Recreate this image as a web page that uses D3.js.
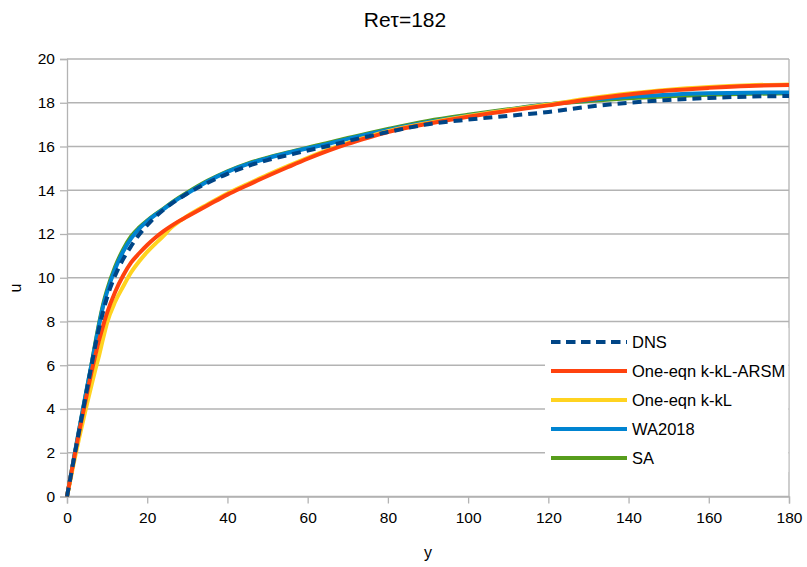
<!DOCTYPE html>
<html>
<head>
<meta charset="utf-8">
<script src="https://cdn.jsdelivr.net/npm/d3@7"></script>
<style>
  html, body { margin: 0; padding: 0; background: #fff; }
  svg { display: block; font-family: "Liberation Sans", Arial, sans-serif; }
</style>
</head>
<body>
<svg id="chart" width="807" height="567"></svg>
<script>
// Wall-normal distance y+ at which every profile is sampled
const yPlus = [0, 1, 2, 3, 4, 5, 6, 7, 8, 9, 10, 12, 14, 16, 18, 20, 22, 24, 26, 28, 30,
  35, 40, 45, 50, 55, 60, 65, 70, 75, 80, 90, 100, 110, 120, 130, 140, 150, 160, 170, 180];

// Mean velocity u+ for each model
const uDNS = [0, 1.0, 2.0, 2.98, 3.95, 4.92, 5.88, 6.85, 7.7, 8.45, 9.1, 10.1, 10.85, 11.45, 11.98, 12.4, 12.78, 13.1, 13.38, 13.62, 13.85,
  14.33, 14.75, 15.1, 15.38, 15.6, 15.82, 16.02, 16.25, 16.46, 16.66, 17.02, 17.23, 17.4, 17.58, 17.82, 18.0, 18.13, 18.22, 18.28, 18.31];
const uARSM = [0, 1.0, 1.97, 2.92, 3.82, 4.72, 5.6, 6.4, 7.15, 7.8, 8.4, 9.35, 10.1, 10.7, 11.12, 11.5, 11.83, 12.12, 12.37, 12.6, 12.8,
  13.3, 13.8, 14.23, 14.65, 15.05, 15.44, 15.8, 16.12, 16.4, 16.66, 17.04, 17.36, 17.63, 17.88, 18.15, 18.38, 18.56, 18.68, 18.77, 18.81];
const uKkL = [0, 0.9, 1.8, 2.65, 3.45, 4.25, 5.0, 5.75, 6.45, 7.22, 7.95, 8.9, 9.6, 10.25, 10.75, 11.18, 11.55, 11.9, 12.3, 12.58, 12.82,
  13.35, 13.85, 14.28, 14.7, 15.1, 15.48, 15.84, 16.16, 16.44, 16.7, 17.08, 17.4, 17.67, 17.92, 18.19, 18.42, 18.6, 18.72, 18.8, 18.84];
const uWA = [0, 1.02, 2.05, 3.05, 4.03, 5.0, 5.94, 6.9, 7.85, 8.7, 9.35, 10.4, 11.2, 11.8, 12.25, 12.58, 12.87, 13.13, 13.4, 13.64, 13.86,
  14.4, 14.84, 15.19, 15.46, 15.7, 15.92, 16.12, 16.35, 16.56, 16.76, 17.12, 17.41, 17.67, 17.93, 18.12, 18.27, 18.37, 18.43, 18.46, 18.47];
const uSA = [0, 1.0, 2.0, 3.0, 3.98, 4.96, 5.92, 6.95, 7.92, 8.78, 9.45, 10.5, 11.3, 11.9, 12.3, 12.62, 12.9, 13.15, 13.42, 13.67, 13.9,
  14.43, 14.87, 15.22, 15.49, 15.73, 15.95, 16.16, 16.39, 16.6, 16.8, 17.17, 17.45, 17.7, 17.93, 18.08, 18.2, 18.3, 18.37, 18.41, 18.43];

const seriesNames = ["DNS", "One-eqn k-kL-ARSM", "One-eqn k-kL", "WA2018", "SA"];
const seriesValues = [uDNS, uARSM, uKkL, uWA, uSA];
const seriesColors = ["#004586", "#ff420e", "#ffd320", "#0084d1", "#579d1c"];

const xTicks = [0, 20, 40, 60, 80, 100, 120, 140, 160, 180];
const yTicks = [0, 2, 4, 6, 8, 10, 12, 14, 16, 18, 20];

const svg = d3.select("#chart");
const plot = { left: 67, right: 789, top: 59, bottom: 496.5 };

const x = d3.scaleLinear().domain([0, 180]).range([plot.left, plot.right]);
const y = d3.scaleLinear().domain([0, 20]).range([plot.bottom, plot.top]);

const grey = "#b3b3b3";

// Horizontal grid
svg.append("g")
  .selectAll("line")
  .data(yTicks)
  .join("line")
  .attr("x1", plot.left).attr("x2", plot.right)
  .attr("y1", d => y(d)).attr("y2", d => y(d))
  .attr("stroke", grey).attr("stroke-width", 1.3);

// Right frame edge
svg.append("line")
  .attr("x1", plot.right).attr("x2", plot.right)
  .attr("y1", plot.top).attr("y2", plot.bottom)
  .attr("stroke", grey).attr("stroke-width", 1.3);

// Axes
const xAxis = d3.axisBottom(x).tickValues(xTicks).tickSize(7).tickPadding(8);
const yAxis = d3.axisLeft(y).tickValues(yTicks).tickSize(7).tickPadding(5);

const gx = svg.append("g").attr("transform", `translate(0,${plot.bottom})`).call(xAxis);
const gy = svg.append("g").attr("transform", `translate(${plot.left},0)`).call(yAxis);

[gx, gy].forEach(g => {
  g.select(".domain").attr("stroke", grey).attr("stroke-width", 1.3);
  g.selectAll(".tick line").attr("stroke", grey).attr("stroke-width", 1.3);
  g.selectAll(".tick text")
    .attr("fill", "#000")
    .style("font-family", "'Liberation Sans', Arial, sans-serif")
    .style("font-size", "15.5px");
});

// Curves, drawn from the last legend entry up so DNS sits on top
svg.append("clipPath").attr("id", "plotClip")
  .append("rect")
  .attr("x", plot.left - 3).attr("y", plot.top - 5)
  .attr("width", plot.right - plot.left + 3).attr("height", plot.bottom - plot.top + 8);

const line = d3.line()
  .x((d, i) => x(yPlus[i]))
  .y(d => y(d))
  .curve(d3.curveMonotoneX);

const curves = svg.append("g").attr("clip-path", "url(#plotClip)");
for (let s = seriesValues.length - 1; s >= 0; s--) {
  curves.append("path")
    .datum(seriesValues[s])
    .attr("d", line)
    .attr("fill", "none")
    .attr("stroke", seriesColors[s])
    .attr("stroke-width", 4)
    .attr("stroke-linejoin", "round")
    .attr("stroke-dasharray", s === 0 ? "9,6" : null);
}

// Legend
const legend = svg.append("g");
legend.append("rect")
  .attr("x", 545).attr("y", 328)
  .attr("width", plot.right - 545 - 0.7).attr("height", 144)
  .attr("fill", "#fff");

const rowY = d3.scalePoint().domain(seriesNames).range([342, 458]);
const items = legend.selectAll("g.item")
  .data(seriesNames)
  .join("g")
  .attr("class", "item")
  .attr("transform", d => `translate(0,${rowY(d)})`);

items.append("line")
  .attr("x1", 551).attr("x2", 627)
  .attr("y1", 0).attr("y2", 0)
  .attr("stroke", (d, i) => seriesColors[i])
  .attr("stroke-width", 4)
  .attr("stroke-dasharray", (d, i) => i === 0 ? "9.5,5.5" : null);

items.append("text")
  .attr("x", 632)
  .attr("y", 6)
  .attr("fill", "#000")
  .style("font-size", "16.5px")
  .text(d => d);

// Title and axis titles
svg.append("text")
  .attr("x", 405).attr("y", 27)
  .attr("text-anchor", "middle")
  .style("font-size", "21px")
  .text("Reτ=182");

svg.append("text")
  .attr("x", 428).attr("y", 558)
  .attr("text-anchor", "middle")
  .style("font-size", "16px")
  .text("y");

svg.append("text")
  .attr("transform", "translate(21,288) rotate(-90)")
  .attr("text-anchor", "middle")
  .style("font-size", "16px")
  .text("u");
</script>
</body>
</html>
